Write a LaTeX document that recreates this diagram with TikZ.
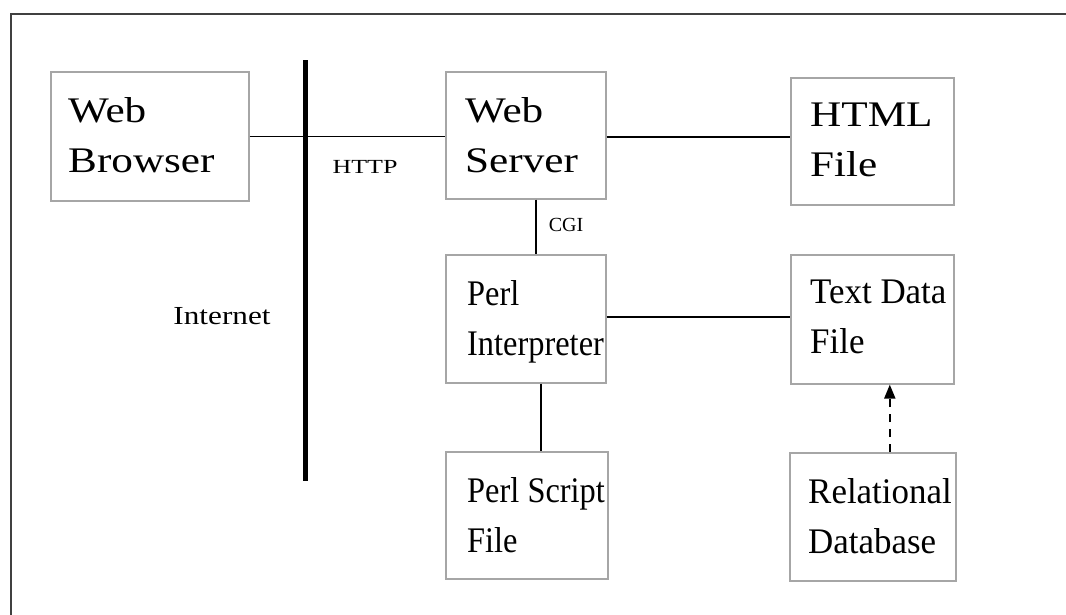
\documentclass[tikz,border=0pt]{standalone}
\usepackage{fontspec}
\setmainfont{Liberation Serif}
\newfontfamily\widefont[FakeStretch=1.2]{Liberation Serif}
\newfontfamily\narrowfont[FakeStretch=0.9]{Liberation Serif}
\newfontfamily\midfont[FakeStretch=0.97]{Liberation Serif}
\newfontfamily\lblwide[FakeStretch=1.3]{Liberation Serif}
\newfontfamily\lblmid[FakeStretch=1.2]{Liberation Serif}
\usetikzlibrary{calc,arrows.meta}
\tikzset{
  box/.style={draw=black!35, line width=1.6pt, rectangle, anchor=north west, inner sep=0pt},
  boxtext/.style={anchor=north west, inner sep=0pt, align=left, font=\fontsize{36}{50}\selectfont},
  lbl/.style={inner sep=0pt, font=\fontsize{20}{24}\selectfont},
  conn/.style={draw=black, line width=1.4pt},
}
\begin{document}
\begin{tikzpicture}[x=1pt,y=-1pt]
\useasboundingbox (0,0) rectangle (1066,614);
\begin{scope}
\clip (0,0) rectangle (1066,614);
\draw[black!75, line width=2pt] (11,14) rectangle (1100,650);
\end{scope}
% boxes
\node[box, minimum width=198pt, minimum height=129pt] (wb) at (50,71) {};
\node[box, minimum width=160pt, minimum height=127pt] (ws) at (445,71) {};
\node[box, minimum width=163pt, minimum height=127pt] (html) at (790,77) {};
\node[box, minimum width=160pt, minimum height=128pt] (pi) at (445,254) {};
\node[box, minimum width=163pt, minimum height=129pt] (td) at (790,254) {};
\node[box, minimum width=162pt, minimum height=127pt] (ps) at (445,451) {};
\node[box, minimum width=166pt, minimum height=128pt] (rd) at (789,452) {};
% texts
\node[boxtext, font=\fontsize{36}{50}\widefont] (wbt) at ([shift={(18,26)}]wb.north west) {Web\\Browser};
\node[boxtext, font=\fontsize{36}{50}\widefont] (wst) at ([shift={(20,26)}]ws.north west) {Web\\Server};
\node[boxtext, font=\fontsize{36}{50}\widefont] (htmlt) at ([shift={(20,26)}]html.north west) {HTML\\File};
\node[boxtext, font=\fontsize{36}{50}\narrowfont] (pit) at ([shift={(22,26)}]pi.north west) {Perl\\Interpreter};
\node[boxtext, font=\fontsize{36}{50}\midfont] (tdt) at ([shift={(20,26)}]td.north west) {Text Data\\File};
\node[boxtext, font=\fontsize{36}{50}\narrowfont] (pst) at ([shift={(22,26)}]ps.north west) {Perl Script\\File};
\node[boxtext, font=\fontsize{36}{50}\midfont] (rdt) at ([shift={(19,26)}]rd.north west) {Relational\\Database};
% internet line
\coordinate (netTop) at (305,60);
\coordinate (netBot) at (305,481);
\draw[black, line width=5pt] (netTop) -- (netBot);
% labels
\node[lbl, font=\fontsize{20}{24}\lblwide] (http) at (365,167) {HTTP};
\node[lbl] (cgi) at (566,225) {CGI};
\node[lbl, font=\fontsize{26}{30}\lblmid] (inet) at (222,316) {Internet};
% connectors
\draw[conn] (wb.east) -- (ws.west |- wb.east);
\draw[conn] ([yshift=-1.5pt]ws.east) -- ([yshift=-1.5pt]ws.east -| html.west);
\draw[conn] ([xshift=10pt]ws.south) -- ([xshift=10pt]ws.south |- pi.north);
\draw[conn] ([yshift=2pt]pi.east) -- ([yshift=2pt]pi.east -| td.west);
\draw[conn] ([xshift=15pt]pi.south) -- ([xshift=15pt]pi.south |- ps.north);
\draw[conn, line width=2pt, dash pattern=on 8pt off 7pt, -{Triangle[length=14pt,width=11pt]}] ([xshift=17pt]rd.north) -- ([xshift=17pt]rd.north |- td.south);
\end{tikzpicture}
\end{document}
